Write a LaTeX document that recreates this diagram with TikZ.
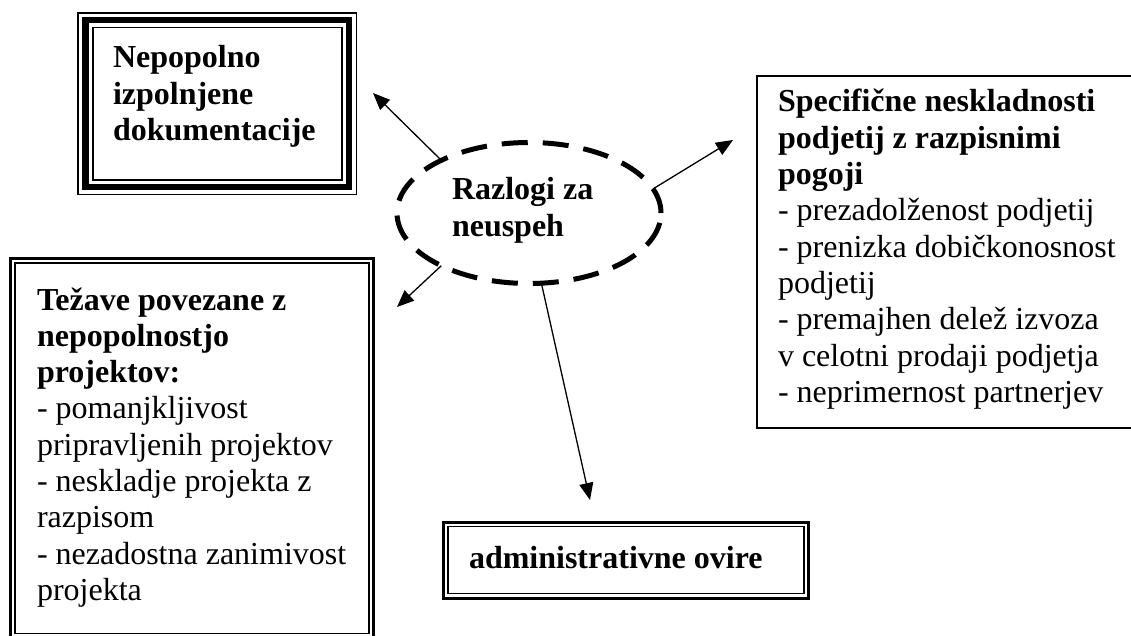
\documentclass[tikz,border=0pt]{standalone}
\usepackage{fontspec}
\setmainfont{Liberation Serif}
\usetikzlibrary{arrows.meta,shapes.geometric}
\begin{document}
\begin{tikzpicture}[x=1pt,y=-1pt,
  txt/.style={anchor=base west,inner sep=0pt,outer sep=0pt},
  boxnode/.style={draw,rectangle,inner sep=0pt,outer sep=0pt},
  conn/.style={line width=1.3pt,-{Triangle[length=17pt,width=14pt]}}
]
\useasboundingbox (0,0) rectangle (1131,636);
\fill[white] (0,0) rectangle (1131,636);
\newcommand{\bigtext}{\fontsize{32}{36.3}\selectfont}

% top-left box (thin-thick-thin)
\node[boxnode,line width=1.8pt,minimum width=278.5pt,minimum height=181.7pt] (tl) at (217.25,103.65) {};
\draw[line width=6.5pt] ([shift={(7.3pt,-7.3pt)}]tl.north west) rectangle ([shift={(-7.3pt,7.3pt)}]tl.south east);
\draw[line width=1.8pt] ([shift={(14.8pt,-14.8pt)}]tl.north west) rectangle ([shift={(-14.8pt,14.8pt)}]tl.south east);
\node[txt] (tlt) at (113,68) {\parbox[t]{240pt}{\raggedright\bigtext\bfseries Nepopolno\\izpolnjene\\dokumentacije}};

% right box (single)
\node[boxnode,line width=1.5pt,minimum width=378pt,minimum height=352pt] (rb) at (946,252) {};
\node[txt] (rbt) at (778,112) {\parbox[t]{350pt}{\raggedright\bigtext
  \textbf{Specifične neskladnosti}\\
  \textbf{podjetij z razpisnimi}\\
  \textbf{pogoji}\\
  - prezadolženost podjetij\\
  - prenizka dobičkonosnost\\
  podjetij\\
  - premajhen delež izvoza\\
  v celotni prodaji podjetja\\
  - neprimernost partnerjev}};

% bottom-left box (thick-thin)
\node[boxnode,line width=3pt,minimum width=363pt,minimum height=379.5pt] (bl) at (192,448.25) {};
\draw[line width=1.5pt] ([shift={(4.3pt,-4.3pt)}]bl.north west) rectangle ([shift={(-4.3pt,4.3pt)}]bl.south east);
\node[txt] (blt) at (37,310) {\parbox[t]{330pt}{\raggedright\bigtext
  \textbf{Težave povezane z}\\
  \textbf{nepopolnostjo}\\
  \textbf{projektov:}\\
  - pomanjkljivost\\
  pripravljenih projektov\\
  - neskladje projekta z\\
  razpisom\\
  - nezadostna zanimivost\\
  projekta}};

% bottom admin box (thick-thin)
\node[boxnode,line width=3pt,minimum width=365pt,minimum height=76pt] (ad) at (626,560) {};
\draw[line width=1.5pt] ([shift={(4.5pt,-4.5pt)}]ad.north west) rectangle ([shift={(-4.5pt,4.5pt)}]ad.south east);
\node[txt] (adt) at (469,568) {\bigtext\bfseries administrativne ovire};

% central dashed ellipse
\node[ellipse,draw,line width=5pt,dash pattern=on 26pt off 15pt,minimum width=264pt,minimum height=141pt,inner sep=0pt,outer sep=0pt] (ell) at (529,213) {};
\node[txt] (ellt) at (452,200) {\parbox[t]{200pt}{\raggedright\bigtext\bfseries Razlogi za\\neuspeh}};

% connectors
\coordinate (t1) at (373,93);
\coordinate (t2) at (733,140);
\coordinate (t3) at (397,307);
\coordinate (t4) at (590,500);
\draw[conn] (ell.149) -- (t1);
\draw[conn] (ell.11) -- (t2);
\draw[conn] (ell.211) -- (t3);
\draw[conn] (ell.280) -- (t4);
\end{tikzpicture}
\end{document}
